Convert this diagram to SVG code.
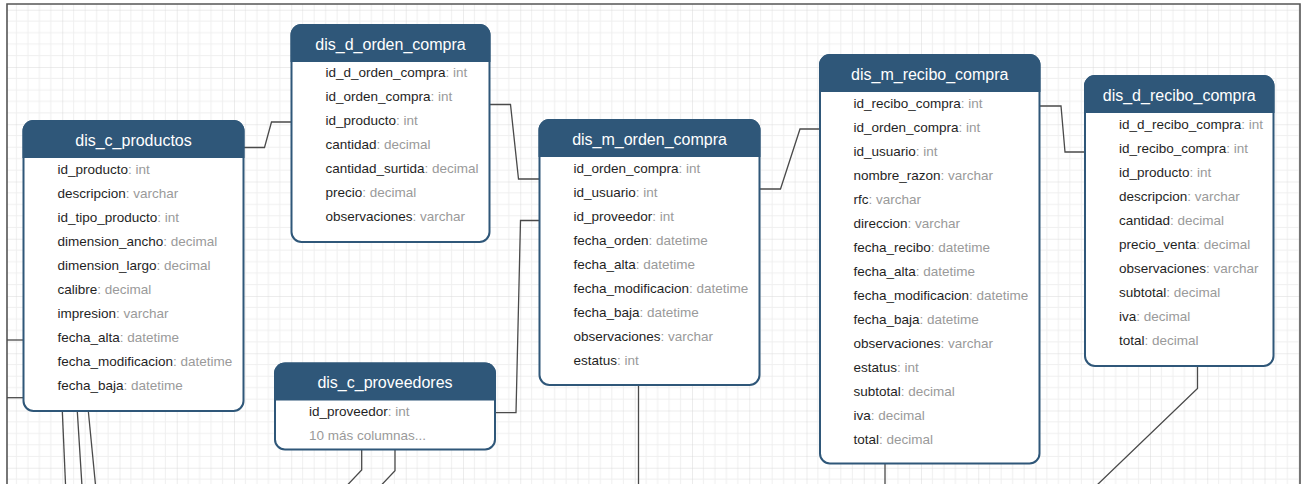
<svg xmlns="http://www.w3.org/2000/svg" width="1304" height="484" viewBox="0 0 1304 484">
<defs>
<pattern id="grid" patternUnits="userSpaceOnUse" x="5" y="9.75" width="57.25" height="57.25">
<path d="M11.45 0V57.25M22.9 0V57.25M34.35 0V57.25M45.8 0V57.25M0 11.45H57.25M0 22.9H57.25M0 34.35H57.25M0 45.8H57.25" stroke="#efefef" stroke-width="1" fill="none"/>
<path d="M0 0V57.25M0 0H57.25" stroke="#d9d9d9" stroke-width="1" fill="none"/>
</pattern>
<style>
.box{fill:#fff;stroke:#2f5779;stroke-width:2}
.hdr{fill:#2f5779}
.ttl{font-family:"Liberation Sans",Arial,sans-serif;font-size:16px;fill:#fff;text-anchor:middle}
.row{font-family:"Liberation Sans",Arial,sans-serif;font-size:13.5px;fill:#1f1f1f}
.t{fill:#9a9a9a}
.conn path{fill:none;stroke:#4a4a4a;stroke-width:1.3}
.frame{fill:none;stroke:#555;stroke-width:1.6}
</style>
</defs>
<rect x="0" y="0" width="1304" height="484" fill="#fff"/>
<rect x="7" y="4" width="1293" height="480" fill="url(#grid)"/>
<path class="frame" d="M7 490V4H1300V490"/>

<g class="conn" id="connectors">
<path d="M243.5 147.5H264.5L271.5 122H291.5"/>
<path d="M489.5 104.5H510.5L518.5 179H539.5"/>
<path d="M495 412.7H516L520.5 220.5H539.5"/>
<path d="M759.5 189H780.5L800 129H820"/>
<path d="M1039.5 106H1061L1065 152H1085"/>
<path d="M638.5 385V486"/>
<path d="M885 463.5V486"/>
<path d="M1197.5 366V388.5L1096 486"/>
<path d="M361.7 449.5V470L346.5 486"/>
<path d="M395 449.5V470.7L380.5 486"/>
<path d="M62.3 411L65.6 486"/>
<path d="M77.3 411L82 486"/>
<path d="M88.3 411L95.6 486"/>
<path d="M7 340H23.5"/>
<path d="M7 397.7H23.5"/>
</g>

<g id="dis_c_productos" transform="translate(23.5,121)">
<rect class="box" x="0" y="0" width="220" height="290" rx="10"/>
<path class="hdr" d="M-1 37V10A11 11 0 0 1 10 -1H210A11 11 0 0 1 221 10V37Z"/>
<text class="ttl" x="110" y="24.5">dis_c_productos</text>
<text class="row" x="34" y="52.8">id_producto<tspan class="t">: int</tspan></text>
<text class="row" x="34" y="76.8">descripcion<tspan class="t">: varchar</tspan></text>
<text class="row" x="34" y="100.8">id_tipo_producto<tspan class="t">: int</tspan></text>
<text class="row" x="34" y="124.8">dimension_ancho<tspan class="t">: decimal</tspan></text>
<text class="row" x="34" y="148.8">dimension_largo<tspan class="t">: decimal</tspan></text>
<text class="row" x="34" y="172.8">calibre<tspan class="t">: decimal</tspan></text>
<text class="row" x="34" y="196.8">impresion<tspan class="t">: varchar</tspan></text>
<text class="row" x="34" y="220.8">fecha_alta<tspan class="t">: datetime</tspan></text>
<text class="row" x="34" y="244.8">fecha_modificacion<tspan class="t">: datetime</tspan></text>
<text class="row" x="34" y="268.8">fecha_baja<tspan class="t">: datetime</tspan></text>
</g>

<g id="dis_d_orden_compra" transform="translate(291.5,25)">
<rect class="box" x="0" y="0" width="198" height="217" rx="10"/>
<path class="hdr" d="M-1 37V10A11 11 0 0 1 10 -1H188A11 11 0 0 1 199 10V37Z"/>
<text class="ttl" x="99" y="24.5">dis_d_orden_compra</text>
<text class="row" x="34" y="52.3">id_d_orden_compra<tspan class="t">: int</tspan></text>
<text class="row" x="34" y="76.3">id_orden_compra<tspan class="t">: int</tspan></text>
<text class="row" x="34" y="100.3">id_producto<tspan class="t">: int</tspan></text>
<text class="row" x="34" y="124.3">cantidad<tspan class="t">: decimal</tspan></text>
<text class="row" x="34" y="148.3">cantidad_surtida<tspan class="t">: decimal</tspan></text>
<text class="row" x="34" y="172.3">precio<tspan class="t">: decimal</tspan></text>
<text class="row" x="34" y="196.3">observaciones<tspan class="t">: varchar</tspan></text>
</g>

<g id="dis_m_orden_compra" transform="translate(539.5,120)">
<rect class="box" x="0" y="0" width="220" height="265" rx="10"/>
<path class="hdr" d="M-1 37V10A11 11 0 0 1 10 -1H210A11 11 0 0 1 221 10V37Z"/>
<text class="ttl" x="110" y="24.5">dis_m_orden_compra</text>
<text class="row" x="34" y="52.8">id_orden_compra<tspan class="t">: int</tspan></text>
<text class="row" x="34" y="76.8">id_usuario<tspan class="t">: int</tspan></text>
<text class="row" x="34" y="100.8">id_proveedor<tspan class="t">: int</tspan></text>
<text class="row" x="34" y="124.8">fecha_orden<tspan class="t">: datetime</tspan></text>
<text class="row" x="34" y="148.8">fecha_alta<tspan class="t">: datetime</tspan></text>
<text class="row" x="34" y="172.8">fecha_modificacion<tspan class="t">: datetime</tspan></text>
<text class="row" x="34" y="196.8">fecha_baja<tspan class="t">: datetime</tspan></text>
<text class="row" x="34" y="220.8">observaciones<tspan class="t">: varchar</tspan></text>
<text class="row" x="34" y="244.8">estatus<tspan class="t">: int</tspan></text>
</g>

<g id="dis_m_recibo_compra" transform="translate(820,55)">
<rect class="box" x="0" y="0" width="219.5" height="408.5" rx="10"/>
<path class="hdr" d="M-1 37V10A11 11 0 0 1 10 -1H209.5A11 11 0 0 1 220.5 10V37Z"/>
<text class="ttl" x="109.75" y="24.5">dis_m_recibo_compra</text>
<text class="row" x="33.5" y="52.6">id_recibo_compra<tspan class="t">: int</tspan></text>
<text class="row" x="33.5" y="76.6">id_orden_compra<tspan class="t">: int</tspan></text>
<text class="row" x="33.5" y="100.6">id_usuario<tspan class="t">: int</tspan></text>
<text class="row" x="33.5" y="124.6">nombre_razon<tspan class="t">: varchar</tspan></text>
<text class="row" x="33.5" y="148.6">rfc<tspan class="t">: varchar</tspan></text>
<text class="row" x="33.5" y="172.6">direccion<tspan class="t">: varchar</tspan></text>
<text class="row" x="33.5" y="196.6">fecha_recibo<tspan class="t">: datetime</tspan></text>
<text class="row" x="33.5" y="220.6">fecha_alta<tspan class="t">: datetime</tspan></text>
<text class="row" x="33.5" y="244.6">fecha_modificacion<tspan class="t">: datetime</tspan></text>
<text class="row" x="33.5" y="268.6">fecha_baja<tspan class="t">: datetime</tspan></text>
<text class="row" x="33.5" y="292.6">observaciones<tspan class="t">: varchar</tspan></text>
<text class="row" x="33.5" y="316.6">estatus<tspan class="t">: int</tspan></text>
<text class="row" x="33.5" y="340.6">subtotal<tspan class="t">: decimal</tspan></text>
<text class="row" x="33.5" y="364.6">iva<tspan class="t">: decimal</tspan></text>
<text class="row" x="33.5" y="388.6">total<tspan class="t">: decimal</tspan></text>
</g>

<g id="dis_d_recibo_compra" transform="translate(1085,76)">
<rect class="box" x="0" y="0" width="188.5" height="290" rx="10"/>
<path class="hdr" d="M-1 37V10A11 11 0 0 1 10 -1H178.5A11 11 0 0 1 189.5 10V37Z"/>
<text class="ttl" x="94.25" y="24.5">dis_d_recibo_compra</text>
<text class="row" x="34" y="53.3">id_d_recibo_compra<tspan class="t">: int</tspan></text>
<text class="row" x="34" y="77.3">id_recibo_compra<tspan class="t">: int</tspan></text>
<text class="row" x="34" y="101.3">id_producto<tspan class="t">: int</tspan></text>
<text class="row" x="34" y="125.3">descripcion<tspan class="t">: varchar</tspan></text>
<text class="row" x="34" y="149.3">cantidad<tspan class="t">: decimal</tspan></text>
<text class="row" x="34" y="173.3">precio_venta<tspan class="t">: decimal</tspan></text>
<text class="row" x="34" y="197.3">observaciones<tspan class="t">: varchar</tspan></text>
<text class="row" x="34" y="221.3">subtotal<tspan class="t">: decimal</tspan></text>
<text class="row" x="34" y="245.3">iva<tspan class="t">: decimal</tspan></text>
<text class="row" x="34" y="269.3">total<tspan class="t">: decimal</tspan></text>
</g>

<g id="dis_c_proveedores" transform="translate(275,363.5)">
<rect class="box" x="0" y="0" width="220" height="86" rx="10"/>
<path class="hdr" d="M-1 37V10A11 11 0 0 1 10 -1H210A11 11 0 0 1 221 10V37Z"/>
<text class="ttl" x="110" y="24.5">dis_c_proveedores</text>
<text class="row" x="34" y="52.6">id_proveedor<tspan class="t">: int</tspan></text>
<text class="row t" x="34" y="76.6">10 más columnas...</text>
</g>
</svg>
